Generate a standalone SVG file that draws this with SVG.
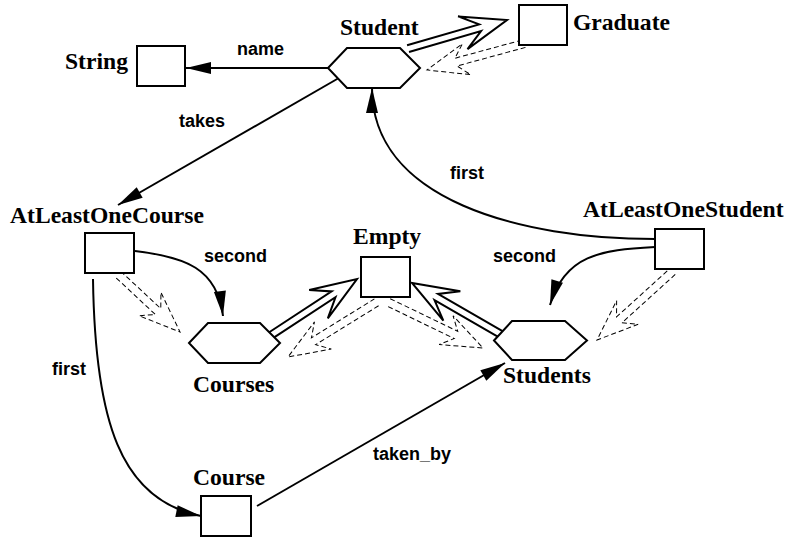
<svg xmlns="http://www.w3.org/2000/svg" width="785" height="541" viewBox="0 0 785 541">
  <style>
    .box { fill: #fff; stroke: #000; stroke-width: 2; }
    .hex { fill: #fff; stroke: #000; stroke-width: 2; stroke-linejoin: miter; }
    .node-label { font-family: "Liberation Serif", "Times New Roman", serif; font-weight: bold; font-size: 23.6px; fill: #000; }
    .edge-label { font-family: "Liberation Sans", Arial, sans-serif; font-weight: bold; font-size: 18px; fill: #000; }
    .ref { fill: none; stroke: #000; stroke-width: 2; marker-end: url(#arrow); }
    .isa { fill: none; stroke: #000; stroke-width: 2; stroke-linejoin: miter; }
    .sub { fill: none; stroke: #000; stroke-width: 1; stroke-dasharray: 5 3; }
  </style>
  <defs>
    <marker id="arrow" viewBox="-26 -7 27 14" refX="0" refY="0" markerWidth="27" markerHeight="14" orient="auto" markerUnits="userSpaceOnUse">
      <path d="M0,0 L-25,-6 L-25,6 Z" fill="#000"/>
    </marker>
  </defs>

  <rect x="0" y="0" width="785" height="541" fill="#fff"/>

  <!-- connectors -->
  <g id="connectors">
    <!-- hollow double-shaft arrows -->
    <path class="isa" transform="translate(507,20) rotate(-16.1)" d="M-103,-3.5 L-28,-3.5 L-46,-17 L0,0 L-46,17 L-28,3.5 L-103,3.5"/>
    <path class="isa" transform="translate(357,279) rotate(-33.2)" d="M-104,-3.5 L-28,-3.5 L-46,-17 L0,0 L-46,17 L-28,3.5 L-104,3.5"/>
    <path class="isa" transform="translate(412,283) rotate(-150)" d="M-106,-3.5 L-28,-3.5 L-46,-17 L0,0 L-46,17 L-28,3.5 L-106,3.5"/>

    <!-- dashed double-shaft arrows -->
    <path class="sub" transform="translate(427,70) rotate(164.8)" d="M-101,-4 L-30,-4 L-41,-16 L0,0 L-41,16 L-30,4 L-101,4"/>
    <path class="sub" transform="translate(180,332) rotate(43)" d="M-85,-4 L-30,-4 L-41,-16 L0,0 L-41,16 L-30,4 L-85,4"/>
    <path class="sub" transform="translate(288,357) rotate(148.3)" d="M-104,-4 L-30,-4 L-41,-16 L0,0 L-41,16 L-30,4 L-104,4"/>
    <path class="sub" transform="translate(483,348) rotate(25.8)" d="M-105,-4 L-30,-4 L-41,-16 L0,0 L-41,16 L-30,4 L-105,4"/>
    <path class="sub" transform="translate(597,340) rotate(137.8)" d="M-102,-4 L-30,-4 L-41,-16 L0,0 L-41,16 L-30,4 L-102,4"/>

    <!-- labelled references -->
    <path class="ref" d="M328,68 L186,68"/>
    <path class="ref" d="M338,78.5 L118,205"/>
    <path class="ref" d="M655,239 C520,239 372,200 372,88"/>
    <path class="ref" d="M135,251 C185,257 217,268 223,316"/>
    <path class="ref" d="M93,279 C95,420 120,500 201,516"/>
    <path class="ref" d="M655,247 C600,250 565,255 550,305"/>
    <path class="ref" d="M257,506 L505,363"/>

    <text class="edge-label" x="237" y="55">name</text>
    <text class="edge-label" x="179" y="127">takes</text>
    <text class="edge-label" x="450" y="179">first</text>
    <text class="edge-label" x="204" y="262">second</text>
    <text class="edge-label" x="493" y="262">second</text>
    <text class="edge-label" x="52" y="375">first</text>
    <text class="edge-label" x="373" y="460">taken_by</text>
  </g>

  <!-- nodes -->
  <g id="Student">
    <polygon class="hex" points="328,68 347,48 400,48 420,68 400,88 347,88"/>
    <text class="node-label" x="340" y="35">Student</text>
  </g>
  <g id="Graduate">
    <rect class="box" x="519" y="5" width="48" height="40"/>
    <text class="node-label" x="573" y="30">Graduate</text>
  </g>
  <g id="String">
    <rect class="box" x="137" y="46" width="48" height="40"/>
    <text class="node-label" x="65" y="69">String</text>
  </g>
  <g id="AtLeastOneCourse">
    <rect class="box" x="85" y="233" width="49" height="40"/>
    <text class="node-label" x="10" y="223">AtLeastOneCourse</text>
  </g>
  <g id="Empty">
    <rect class="box" x="361" y="257" width="49" height="40"/>
    <text class="node-label" x="353" y="244">Empty</text>
  </g>
  <g id="AtLeastOneStudent">
    <rect class="box" x="655" y="229" width="49" height="40"/>
    <text class="node-label" x="583" y="217">AtLeastOneStudent</text>
  </g>
  <g id="Courses">
    <polygon class="hex" points="189,343 208,323 260,323 280,343 260,363 208,363"/>
    <text class="node-label" x="193" y="392">Courses</text>
  </g>
  <g id="Students">
    <polygon class="hex" points="494,340.5 512,321 565,321 587,340.5 565,360 512,360"/>
    <text class="node-label" x="503" y="383">Students</text>
  </g>
  <g id="Course">
    <rect class="box" x="201" y="496" width="50" height="40"/>
    <text class="node-label" x="193" y="485">Course</text>
  </g>
</svg>
